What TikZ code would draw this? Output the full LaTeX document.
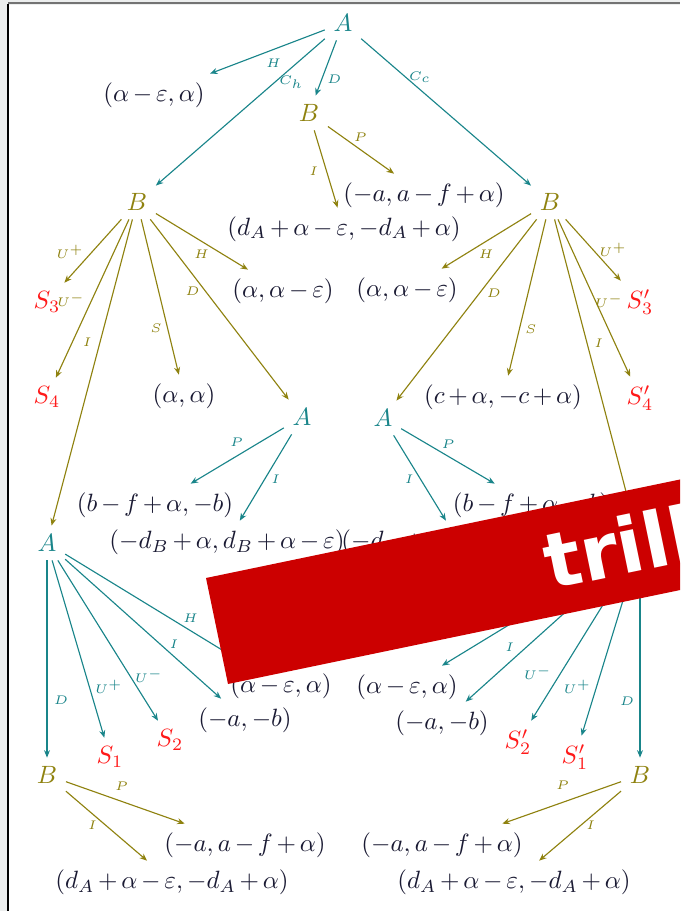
\documentclass[tikz,border=0pt]{standalone}
\usepackage{fontspec}
\newfontfamily\bannerfont{DejaVu Sans}
\usetikzlibrary{arrows.meta}
\definecolor{tealc}{rgb}{0.1,0.52,0.54}
\definecolor{olivec}{rgb}{0.56,0.51,0.06}
\definecolor{payc}{HTML}{1A1A33}
\definecolor{sred}{HTML}{FF1A1A}
\definecolor{bannerred}{HTML}{CC0000}
\definecolor{pagegray}{HTML}{ECEEEE}
\begin{document}
\begin{tikzpicture}[x=0.4pt,y=-0.4pt,
 an/.style={text=tealc},
 bn/.style={text=olivec},
 sn/.style={text=sred},
 pay/.style={text=payc,execute at begin node={\medmuskip=2.7mu}},
 ta/.style={draw=tealc,line width=0.45pt,-{Stealth[length=3pt,width=2.4pt]}},
 oa/.style={draw=olivec,line width=0.45pt,-{Stealth[length=3pt,width=2.4pt]}},
 lab/.style={font=\fontsize{5}{6}\selectfont,inner sep=0pt},
 tl/.style={lab,text=tealc},
 ol/.style={lab,text=olivec}]
\useasboundingbox (0,0) rectangle (680,911);
\clip (0,0) rectangle (680,911);
% page
\fill[pagegray] (0,0) rectangle (680,911);
\fill[white] (9,5) rectangle (680,911);
\draw[black,line width=0.8pt] (8,4) -- (8,911);
\draw[black!55,line width=0.8pt] (8,3.5) -- (680,3.5);
% nodes
\node[an] (A0) at (343,23) {$A$};
\node[pay] (p1) at (154,95) {$(\alpha-\varepsilon,\alpha)$};
\node[bn] (B1) at (309,113) {$B$};
\node[pay] (p2) at (424,195) {$(-a,a-f+\alpha)$};
\node[pay] (p3) at (344,229) {$(d_A+\alpha-\varepsilon,-d_A+\alpha)$};
\node[bn] (BL) at (137,202) {$B$};
\node[bn] (BR) at (550,202) {$B$};
\node[sn] (S3) at (47,302) {$S_3$};
\node[sn] (S4) at (47,397) {$S_4$};
\node[pay] (p4) at (184,396) {$(\alpha,\alpha)$};
\node[pay] (p5) at (283,291) {$(\alpha,\alpha-\varepsilon)$};
\node[an] (AML) at (302,417) {$A$};
\node[an] (ALL) at (47,543) {$A$};
\node[pay] (p6) at (407,290) {$(\alpha,\alpha-\varepsilon)$};
\node[pay] (p7) at (503,397) {$(c+\alpha,-c+\alpha)$};
\node[sn] (S3p) at (640,302) {$S'_3$};
\node[sn] (S4p) at (640,398) {$S'_4$};
\node[an] (AMR) at (383,418) {$A$};
\node[an] (ALR) at (640,545) {$A$};
\node[pay] (p8) at (155,505) {$(b-f+\alpha,-b)$};
\node[pay] (p9) at (227,542) {$(-d_B+\alpha,d_B+\alpha-\varepsilon)$};
\node[pay] (p10) at (531,505) {$(b-f+\alpha,-b)$};
\node[pay] (p11) at (459,542) {$(-d_B+\alpha,d_B+\alpha-\varepsilon)$};
\node[bn] (BBL) at (47,775) {$B$};
\node[sn] (S1) at (110,757) {$S_1$};
\node[sn] (S2) at (170,740) {$S_2$};
\node[pay] (p12) at (281,686) {$(\alpha-\varepsilon,\alpha)$};
\node[pay] (p13) at (245,720) {$(-a,-b)$};
\node[bn] (BBR) at (640,775) {$B$};
\node[sn] (S1p) at (575,757) {$S'_1$};
\node[sn] (S2p) at (518,742) {$S'_2$};
\node[pay] (p14) at (407,687) {$(\alpha-\varepsilon,\alpha)$};
\node[pay] (p15) at (442,723) {$(-a,-b)$};
\node[pay] (p16) at (245,845) {$(-a,a-f+\alpha)$};
\node[pay] (p17) at (172,882) {$(d_A+\alpha-\varepsilon,-d_A+\alpha)$};
\node[pay] (p18) at (442,845) {$(-a,a-f+\alpha)$};
\node[pay] (p19) at (514,882) {$(d_A+\alpha-\varepsilon,-d_A+\alpha)$};
% top
\draw[ta] (A0) -- node[tl,pos=0.49,shift={(5,12)}]{$H$} (p1);
\draw[ta] (A0) -- node[tl,pos=0.24,shift={(7,8)}]{$C_h$} (BL);
\draw[ta] (A0) -- node[tl,pos=0.63,shift={(11,4)}]{$D$} (B1);
\draw[ta] (A0) -- node[tl,pos=0.31,shift={(6,-7)}]{$C_c$} (BR);
\draw[oa] (B1) -- node[ol,pos=0.40,shift={(6,-8)}]{$P$} (p2);
\draw[oa] (B1) -- node[ol,pos=0.49,shift={(-12,3)}]{$I$} (p3);
% left B
\draw[oa] (BL) -- node[ol,pos=0.69,shift={(-12,-11)}]{$U^+$} (S3);
\draw[oa] (BL) -- node[ol,pos=0.56,shift={(-17,-8)}]{$U^-$} (S4);
\draw[oa] (BL) -- node[ol,pos=0.41,shift={(-12,-3)}]{$I$} (ALL);
\draw[oa] (BL) -- node[ol,pos=0.685,shift={(-11,2.5)}]{$S$} (p4);
\draw[oa] (BL) -- node[ol,pos=0.37,shift={(-9,5)}]{$D$} (AML);
\draw[oa] (BL) -- node[ol,pos=0.56,shift={(-6,9)}]{$H$} (p5);
% right B
\draw[oa] (BR) -- node[ol,pos=0.57,shift={(6,9)}]{$H$} (p6);
\draw[oa] (BR) -- node[ol,pos=0.37,shift={(9,7)}]{$D$} (AMR);
\draw[oa] (BR) -- node[ol,pos=0.69,shift={(11,2.5)}]{$S$} (p7);
\draw[oa] (BR) -- node[ol,pos=0.41,shift={(11,-3)}]{$I$} (ALR);
\draw[oa] (BR) -- node[ol,pos=0.55,shift={(11.5,-5)}]{$U^-$} (S4p);
\draw[oa] (BR) -- node[ol,pos=0.66,shift={(11,-10)}]{$U^+$} (S3p);
% middle A's
\draw[ta] (AML) -- node[tl,pos=0.44,shift={(-6,-10)}]{$P$} (p8);
\draw[ta] (AML) -- node[tl,pos=0.46,shift={(8,5)}]{$I$} (p9);
\draw[ta] (AMR) -- node[tl,pos=0.45,shift={(5,-9)}]{$P$} (p10);
\draw[ta] (AMR) -- node[tl,pos=0.45,shift={(-8,5)}]{$I$} (p11);
% lower left A
\draw[ta] (ALL) -- node[tl,pos=0.71,shift={(14,0)}]{$D$} (BBL);
\draw[ta] (ALL) -- node[tl,pos=0.74,shift={(18,-5)}]{$U^+$} (S1);
\draw[ta] (ALL) -- node[tl,pos=0.77,shift={(14,-8.5)}]{$U^-$} (S2);
\draw[ta] (ALL) -- node[tl,pos=0.66,shift={(6,-7)}]{$I$} (p13);
\draw[ta] (ALL) -- node[tl,pos=0.66,shift={(6,-9)}]{$H$} (p12);
% lower right A
\draw[ta] (ALR) -- node[tl,pos=0.71,shift={(-13,0)}]{$D$} (BBR);
\draw[ta] (ALR) -- node[tl,pos=0.74,shift={(-18,-4)}]{$U^+$} (S1p);
\draw[ta] (ALR) -- node[tl,pos=0.76,shift={(-17,-10)}]{$U^-$} (S2p);
\draw[ta] (ALR) -- node[tl,pos=0.67,shift={(-7.5,-8.4)}]{$I$} (p15);
\draw[ta] (ALR) -- node[tl,pos=0.66,shift={(-6,-9)}]{$H$} (p14);
% bottom B's
\draw[oa] (BBL) -- node[ol,pos=0.46,shift={(1,-15)}]{$P$} (p16);
\draw[oa] (BBL) -- node[ol,pos=0.40,shift={(-6,6)}]{$I$} (p17);
\draw[oa] (BBR) -- node[ol,pos=0.45,shift={(-5,-15)}]{$P$} (p18);
\draw[oa] (BBR) -- node[ol,pos=0.43,shift={(5,4)}]{$I$} (p19);
% banner
\fill[bannerred] (206,578) -- (228,684) -- (815,562) -- (793,456) -- cycle;
\node[text=white,font=\bannerfont\bfseries\fontsize{30.5}{32}\selectfont,rotate=11.7,anchor=base west,inner sep=0pt] (ban) at (550,590) {trill};
\end{tikzpicture}
\end{document}
